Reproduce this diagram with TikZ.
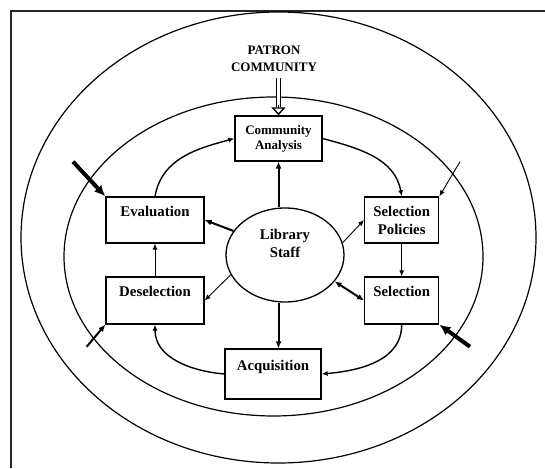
\documentclass[tikz,border=0pt]{standalone}
\usepackage{fontspec}
\setmainfont{Liberation Serif}
\usetikzlibrary{arrows.meta,shapes.geometric}

\begin{document}
\begin{tikzpicture}[x=1pt,y=1pt,>={Latex[length=6pt,width=5pt]},
  box/.style={draw,line width=1.3pt,inner sep=0pt,align=center,font=\fontsize{14.8}{18}\selectfont\bfseries},
  ring/.style={line width=1.2pt},
  cyclearrow/.style={line width=1.4pt,->},
  lightarrow/.style={line width=0.9pt,->,>={Latex[length=6pt,width=5pt]}},
  midarrow/.style={line width=2pt,->,>={Latex[length=7pt,width=6pt]}},
  heavyarrow/.style={line width=4pt,->,>={Latex[length=11pt,width=10pt]}}]
\useasboundingbox (0,0) rectangle (545,468);
\draw[line width=1.5pt,black!85] (11,0) -- (11,457) -- (545,457);
\draw[ring] (278.5,230.5) ellipse [x radius=257.5, y radius=225.5];
\draw[ring] (273.5,211.5) ellipse [x radius=209.5, y radius=159.5];

\node[align=center,font=\fontsize{13}{17}\selectfont\bfseries] (patron) at (274,409) {PATRON\\COMMUNITY};
\node[box,minimum width=87pt,minimum height=45pt,font=\fontsize{13}{15}\selectfont\bfseries] (comm) at (278.5,329.5) {Community\\Analysis};
\node[box,minimum width=98pt,minimum height=46pt] (eval) at (155,248) {Evaluation\\\mbox{}};
\node[box,minimum width=74pt,minimum height=46pt] (selpol) at (401.7,248) {Selection\\Policies};
\node[box,minimum width=98pt,minimum height=47pt] (desel) at (155,167.5) {Deselection\\\mbox{}};
\node[box,minimum width=74pt,minimum height=47pt] (sel) at (401.7,167.5) {Selection\\\mbox{}};
\node[box,minimum width=96pt,minimum height=50pt] (acq) at (273,94) {Acquisition\\\mbox{}};
\node[box,ellipse,minimum width=118pt,minimum height=94pt] (staff) at (285,213) {Library\\Staff\\[5pt]\mbox{}};

\draw[double,double distance=2.6pt,line width=1.4pt,shorten <=3pt,shorten >=8pt] (comm.north |- patron.south) -- (comm.north);
\draw[line width=1.4pt,-{Triangle[open,length=8pt,width=14pt]}] ([yshift=10pt]comm.north) -- (comm.north);

\draw[midarrow] (comm.south |- staff.north) -- (comm.south);
\draw[midarrow] (comm.south |- staff.south) -- (comm.south |- acq.north);
\draw[midarrow] (staff.155) -- (eval.east);
\draw[lightarrow] (staff.200) -- (desel.east);
\draw[lightarrow] (staff.12) -- (selpol.west);
\draw[midarrow,<->] (staff.-28) -- (sel.west);
\draw[lightarrow] (desel.north) -- (eval.south);
\draw[lightarrow] (selpol.south) -- (sel.north);

\draw[cyclearrow] (eval.north) to[out=80,in=195] (comm.west);
\draw[cyclearrow] (comm.east) to[out=-15,in=100] (selpol.north);
\draw[cyclearrow] (sel.south) to[out=-90,in=5] (acq.east);
\draw[cyclearrow] (acq.west) to[out=175,in=-90] (desel.south);

\coordinate (tl) at (73,306.3);
\coordinate (tr) at (460,306.3);
\coordinate (bl) at (86.7,121.3);
\coordinate (br) at (470,121.3);
\draw[heavyarrow] (tl) -- (eval.north west);
\draw[lightarrow] (tr) -- (selpol.north east);
\draw[midarrow] (bl) -- (desel.south west);
\draw[heavyarrow] (br) -- (sel.south east);
\end{tikzpicture}
\end{document}
